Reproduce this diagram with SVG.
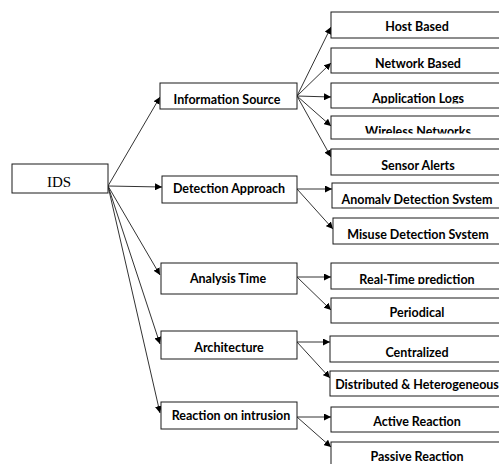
<svg xmlns="http://www.w3.org/2000/svg" width="499" height="464" viewBox="0 0 499 464">
<style>
.box{fill:#fff;stroke:#1a1a1a;stroke-width:1}
.t{font-family:Lato,"Liberation Sans",sans-serif;font-weight:bold;font-size:12.5px;fill:#000;text-anchor:middle}
.ids{font-family:"Liberation Serif",serif;font-size:15px;fill:#000;text-anchor:middle}
.c line{stroke:#333;stroke-width:1;marker-end:url(#ah)}
</style>
<defs>
<marker id="ah" markerUnits="userSpaceOnUse" markerWidth="8" markerHeight="7" refX="7" refY="3.5" orient="auto">
<path d="M0,0 L7,3.5 L0,7 z" fill="#000"/>
</marker>
<clipPath id="cApp"><rect x="330" y="83" width="170" height="20.5"/></clipPath>
<clipPath id="cWir"><rect x="330" y="116" width="170" height="17.5"/></clipPath>
<clipPath id="cAno"><rect x="330" y="183" width="170" height="21"/></clipPath>
<clipPath id="cMis"><rect x="330" y="218" width="170" height="21"/></clipPath>
<clipPath id="cRt"><rect x="330" y="263" width="170" height="21"/></clipPath>
</defs>
<g class="c" id="connectors">
<line x1="108" y1="186" x2="160" y2="97"/>
<line x1="108" y1="186" x2="162" y2="187"/>
<line x1="108" y1="186" x2="160" y2="275"/>
<line x1="108" y1="186" x2="160" y2="344"/>
<line x1="108" y1="186" x2="160" y2="413"/>
<line x1="297" y1="96" x2="331" y2="27"/>
<line x1="297" y1="96" x2="331" y2="63"/>
<line x1="297" y1="96" x2="331" y2="97"/>
<line x1="297" y1="96" x2="331" y2="126"/>
<line x1="297" y1="96" x2="331" y2="157"/>
<line x1="297" y1="189" x2="332" y2="189"/>
<line x1="297" y1="189" x2="333" y2="229"/>
<line x1="297" y1="277" x2="331" y2="277"/>
<line x1="297" y1="277" x2="331" y2="310"/>
<line x1="297" y1="342" x2="330" y2="342"/>
<line x1="297" y1="342" x2="330" y2="378"/>
<line x1="297" y1="417" x2="331" y2="417"/>
<line x1="297" y1="417" x2="331" y2="447"/>
</g>
<g id="ids"><rect class="box" x="12" y="164" width="96" height="29"/><text class="ids" x="59" y="187">IDS</text></g>
<g id="info"><rect class="box" x="160" y="83" width="137" height="26"/><text class="t" x="227" y="104">Information Source</text></g>
<g id="detect"><rect class="box" x="162" y="176" width="135" height="27"/><text class="t" x="229" y="193">Detection Approach</text></g>
<g id="analysis"><rect class="box" x="161" y="263" width="136" height="31"/><text class="t" x="228" y="283">Analysis Time</text></g>
<g id="arch"><rect class="box" x="161" y="331" width="136" height="28"/><text class="t" x="229" y="352">Architecture</text></g>
<g id="react"><rect class="box" x="161" y="402" width="136" height="27"/><text class="t" x="231" y="420">Reaction on intrusion</text></g>
<g id="host"><rect class="box" x="331" y="12" width="180" height="26"/><text class="t" x="417" y="31">Host Based</text></g>
<g id="network"><rect class="box" x="331" y="48" width="180" height="25"/><text class="t" x="418" y="68">Network Based</text></g>
<g id="applogs"><rect class="box" x="331" y="83" width="180" height="25"/><text class="t" x="418" y="103" clip-path="url(#cApp)">Application Logs</text></g>
<g id="wireless"><rect class="box" x="331" y="116" width="180" height="23"/><text class="t" x="418" y="136" clip-path="url(#cWir)">Wireless Networks</text></g>
<g id="sensor"><rect class="box" x="331" y="149" width="180" height="26"/><text class="t" x="418" y="170">Sensor Alerts</text></g>
<g id="anomaly"><rect class="box" x="332" y="183" width="180" height="25"/><text class="t" x="417" y="204" clip-path="url(#cAno)">Anomaly Detection System</text></g>
<g id="misuse"><rect class="box" x="333" y="218" width="180" height="26"/><text class="t" x="418" y="239" clip-path="url(#cMis)">Misuse Detection System</text></g>
<g id="realtime"><rect class="box" x="331" y="263" width="180" height="26"/><text class="t" x="417" y="284" clip-path="url(#cRt)">Real-Time prediction</text></g>
<g id="periodical"><rect class="box" x="331" y="298" width="180" height="25"/><text class="t" x="417" y="317">Periodical</text></g>
<g id="central"><rect class="box" x="330" y="336" width="180" height="26"/><text class="t" x="417" y="357">Centralized</text></g>
<g id="distrib"><rect class="box" x="330" y="371" width="180" height="25"/><text class="t" x="417" y="389">Distributed &amp; Heterogeneous</text></g>
<g id="active"><rect class="box" x="331" y="407" width="180" height="25"/><text class="t" x="417" y="426">Active Reaction</text></g>
<g id="passive"><rect class="box" x="331" y="442" width="180" height="30"/><text class="t" x="417" y="460.5">Passive Reaction</text></g>
</svg>
